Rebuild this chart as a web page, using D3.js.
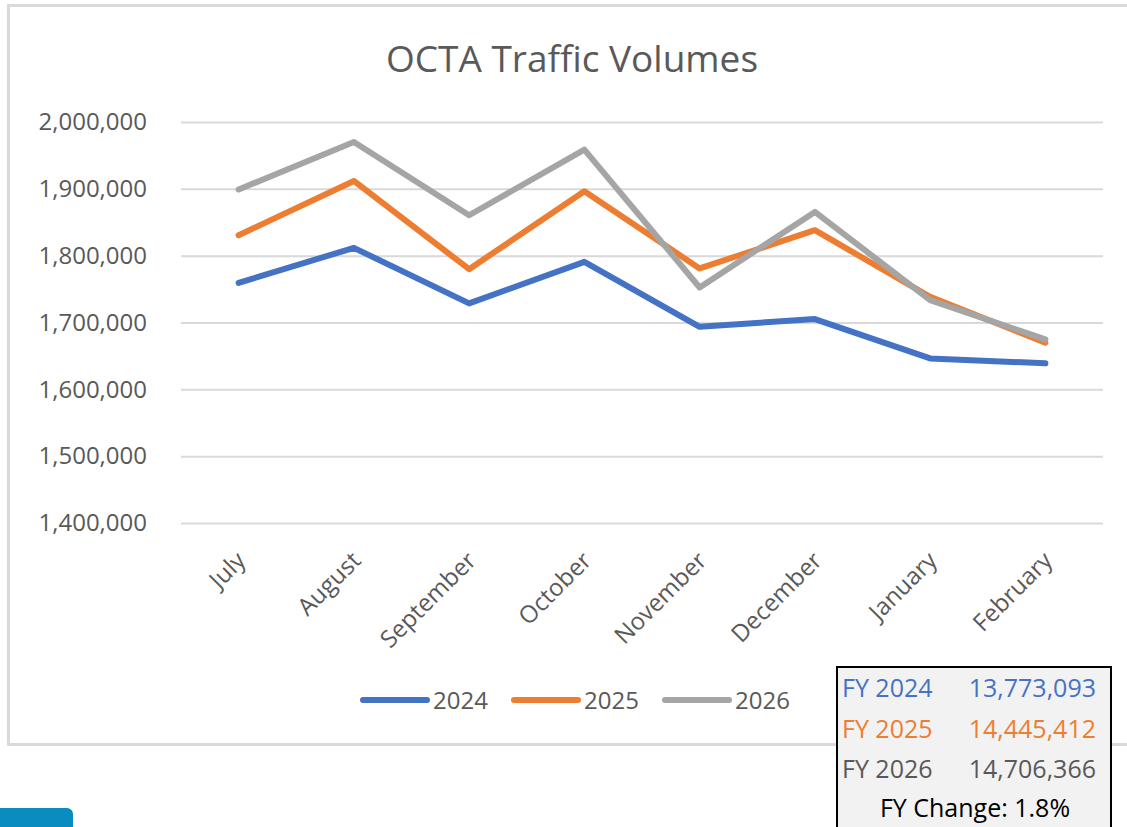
<!DOCTYPE html>
<html>
<head>
<meta charset="utf-8">
<script src="https://cdn.jsdelivr.net/npm/d3@7"></script>
<style>
  body { margin: 0; background: #fff; }
  text { font-family: "Open Sans", "Noto Sans", sans-serif; }
</style>
</head>
<body>
<div id="chart"></div>
<script>
// OCTA traffic volumes, monthly, by fiscal year

var months = ["July", "August", "September", "October", "November", "December", "January", "February"];
var years = ["2024", "2025", "2026"];
var vol2024 = [1759300, 1811700, 1728600, 1790700, 1693600, 1705100, 1646300, 1638900];
var vol2025 = [1830600, 1911800, 1779800, 1896400, 1780900, 1838100, 1738400, 1669700];
var vol2026 = [1899000, 1970100, 1860500, 1958700, 1752400, 1865500, 1733500, 1674700];
var yTicks = [1400000, 1500000, 1600000, 1700000, 1800000, 1900000, 2000000];
var seriesColors = ["#4472C4", "#ED7D31", "#A5A5A5"];

// summary box
var fyLabels = ["FY 2024", "FY 2025", "FY 2026"];
var fyTotals = ["13,773,093", "14,445,412", "14,706,366"];
var fyColors = ["#4472C4", "#ED7D31", "#595959"];
var fyChange = "FY Change: 1.8%";

var totwidth = 1127,
    totheight = 827,
    plot = {left: 181, right: 1103, top: 122, bottom: 523};

var svg = d3.select("#chart").append("svg")
    .attr("width", totwidth)
    .attr("height", totheight);

// chart area frame
svg.append("rect")
    .attr("x", 8.5).attr("y", 5.5)
    .attr("width", 1140).attr("height", 739)
    .attr("fill", "#fff")
    .attr("stroke", "#d9d9d9")
    .attr("stroke-width", 3);

svg.append("text")
    .attr("x", 572).attr("y", 72)
    .attr("text-anchor", "middle")
    .attr("font-size", 37)
    .attr("fill", "#595959")
    .text("OCTA Traffic Volumes");

var xScale = d3.scalePoint()
    .domain(months)
    .range([plot.left, plot.right])
    .padding(0.5);

var yScale = d3.scaleLinear()
    .domain([1400000, 2000000])
    .range([plot.bottom, plot.top]);

// gridlines + y labels
var yAxis = svg.append("g")
    .attr("transform", "translate(" + plot.left + ",0)")
    .call(d3.axisLeft(yScale)
      .tickValues(yTicks)
      .tickSize(-(plot.right - plot.left))
      .tickPadding(34)
      .tickFormat(d3.format(",")));
yAxis.select(".domain").remove();
yAxis.selectAll(".tick line").attr("stroke", "#d9d9d9").attr("stroke-width", 2);
yAxis.selectAll(".tick text")
    .attr("font-size", 24)
    .attr("fill", "#595959")
    .attr("font-family", "Open Sans");

// x labels, rotated
var xAxis = svg.append("g")
    .attr("transform", "translate(0," + plot.bottom + ")")
    .call(d3.axisBottom(xScale).tickSize(0).tickPadding(0));
xAxis.select(".domain").remove();
xAxis.selectAll(".tick text")
    .attr("font-size", 24)
    .attr("font-family", "Open Sans")
    .attr("fill", "#595959")
    .attr("text-anchor", "end")
    .attr("dy", null)
    .attr("y", 0)
    .attr("transform", "translate(8,39) rotate(-45)");

// lines
var allSeries = [vol2024, vol2025, vol2026];
var line = d3.line()
    .x(function(d, i) { return xScale(months[i]); })
    .y(function(d) { return yScale(d); });

svg.selectAll(".series")
    .data(allSeries)
    .enter().append("path")
    .attr("class", "series")
    .attr("d", line)
    .attr("fill", "none")
    .attr("stroke", function(d, i) { return seriesColors[i]; })
    .attr("stroke-width", 6)
    .attr("stroke-linejoin", "round")
    .attr("stroke-linecap", "round");

// legend
var legendX = [363, 514, 665];
var legend = svg.selectAll(".legendItem")
    .data(years)
    .enter().append("g")
    .attr("class", "legendItem")
    .attr("transform", function(d, i) { return "translate(" + legendX[i] + ",700)"; });
legend.append("line")
    .attr("x1", 0).attr("x2", 64)
    .attr("stroke", function(d, i) { return seriesColors[i]; })
    .attr("stroke-width", 6)
    .attr("stroke-linecap", "round");
legend.append("text")
    .attr("x", 70).attr("y", 9)
    .attr("font-size", 24)
    .attr("fill", "#595959")
    .text(function(d) { return d; });

// FY summary box
svg.append("rect")
    .attr("x", 837).attr("y", 667)
    .attr("width", 274).attr("height", 180)
    .attr("fill", "#f2f2f2")
    .attr("stroke", "#000")
    .attr("stroke-width", 2);

var rows = svg.selectAll(".fyRow")
    .data(fyLabels)
    .enter().append("g")
    .attr("class", "fyRow")
    .attr("transform", function(d, i) { return "translate(0," + (697 + i * 40.5) + ")"; });
rows.append("text")
    .attr("x", 842)
    .attr("font-size", 25)
    .attr("fill", function(d, i) { return fyColors[i]; })
    .text(function(d) { return d; });
rows.append("text")
    .attr("x", 1096)
    .attr("text-anchor", "end")
    .attr("font-size", 25)
    .attr("fill", function(d, i) { return fyColors[i]; })
    .text(function(d, i) { return fyTotals[i]; });

svg.append("text")
    .attr("x", 975).attr("y", 817)
    .attr("text-anchor", "middle")
    .attr("font-size", 25)
    .attr("fill", "#000")
    .text(fyChange);

// partial logo at bottom-left
svg.append("rect")
    .attr("x", -10).attr("y", 808)
    .attr("width", 83).attr("height", 40)
    .attr("rx", 6)
    .attr("fill", "#0a8cc0");
</script>
</body>
</html>
